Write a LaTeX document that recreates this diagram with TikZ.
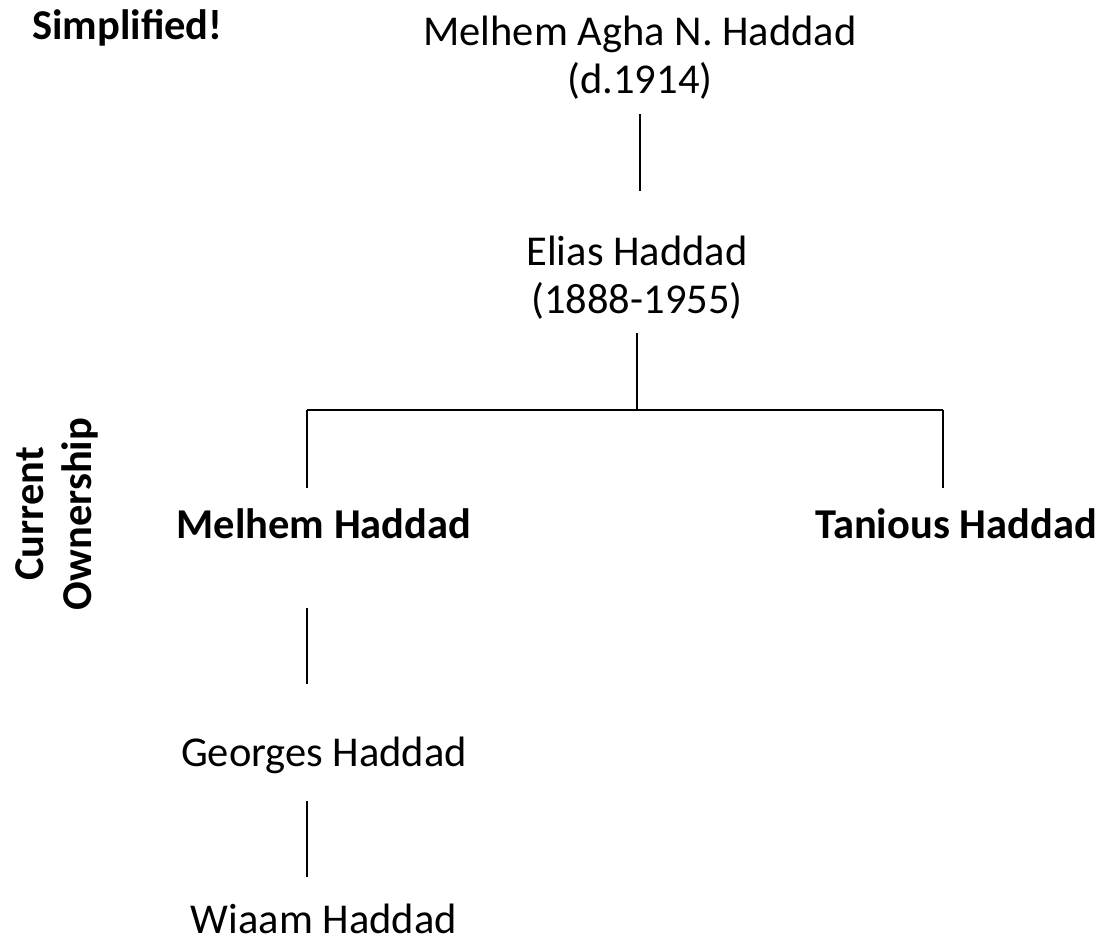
\documentclass[tikz,border=0pt]{standalone}
\usepackage{fontspec}
\setmainfont{Carlito}
\tikzset{
  person/.style={anchor=base, inner sep=0pt, align=center, font=\fontsize{42.5}{48}\selectfont},
  owner/.style={anchor=base, inner sep=0pt, align=center, font=\fontsize{42.5}{48}\selectfont\bfseries},
  link/.style={draw=black, line width=1.2pt}
}
\begin{document}
\begin{tikzpicture}[x=1pt,y=-1pt]
\useasboundingbox (0,0) rectangle (1103,937);
\node[owner, anchor=base west] (simp) at (32,39) {Simplified!};
\node[person] (melhemagha) at (640,93) {Melhem Agha N. Haddad\\(d.1914)};
\node[person] (elias) at (637,313) {Elias Haddad\\(1888-1955)};
\node[owner] (melhem) at (324,538) {Melhem Haddad};
\node[owner] (tanious) at (956,538) {Tanious Haddad};
\node[owner, rotate=90] (current) at (91,514) {Current\\Ownership};
\node[person] (georges) at (324,766) {Georges Haddad};
\node[person] (wiaam) at (324,933) {Wiaam Haddad};
\coordinate (fork) at (elias.south |- 0,410);
\draw[link] (melhemagha.south |- 0,114) -- (melhemagha.south |- 0,191);
\draw[link] (elias.south |- 0,333) -- (fork);
\draw[link] (307,410) coordinate (forkL) -- (fork) -- (943,410) coordinate (forkR);
\draw[link] (forkL) -- (forkL |- 0,488);
\draw[link] (forkR) -- (forkR |- 0,488);
\draw[link] (307,608) coordinate (m1) -- (m1 |- 0,684);
\draw[link] (307,801) coordinate (g1) -- (g1 |- 0,877);
\end{tikzpicture}
\end{document}
